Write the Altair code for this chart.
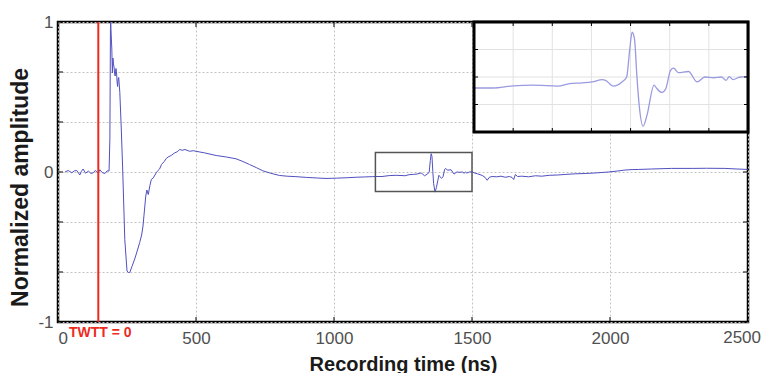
import altair as alt
import pandas as pd

# ---------------- data ----------------
t_early = [25, 37, 50, 60, 68, 79, 85, 91, 100, 110, 120, 128, 135, 145, 152, 160, 170, 178, 185, 188,
           190, 191, 193, 195, 197, 199, 201, 203, 205, 207, 210, 212, 214, 216, 218, 220, 222, 224, 229,
           234, 242, 250, 255, 260, 268, 278, 288, 296, 303, 308, 313, 318, 322, 327, 333, 338, 345, 356,
           362, 368, 375, 385, 392, 399, 410, 423, 432, 441, 450, 460, 477, 490, 500, 530, 573, 610, 645,
           670, 694, 720, 742, 770, 802, 830, 862, 900, 940, 971, 1010, 1050, 1079, 1110, 1140]
v_early = [0.0, 0.01, -0.005, 0.008, 0.01, -0.02, 0.005, 0.02, -0.008, 0.006, -0.01, -0.005, 0.01, -0.006,
           0.015, -0.004, -0.01, 0.008, 0.006, 0.22, 0.95, 1.0, 0.9, 0.82, 0.66, 0.76, 0.72, 0.7, 0.66, 0.64,
           0.69, 0.67, 0.6, 0.57, 0.62, 0.63, 0.58, 0.53, 0.3, 0.04, -0.45, -0.66, -0.67, -0.67, -0.63, -0.58,
           -0.52, -0.47, -0.42, -0.36, -0.26, -0.16, -0.12, -0.15, -0.09, -0.05, -0.04, -0.005, 0.01, 0.02,
           0.05, 0.07, 0.09, 0.1, 0.11, 0.128, 0.135, 0.15, 0.145, 0.15, 0.138, 0.142, 0.138, 0.128, 0.11,
           0.1, 0.088, 0.07, 0.05, 0.028, 0.008, -0.008, -0.023, -0.028, -0.031, -0.036, -0.04, -0.043,
           -0.041, -0.038, -0.035, -0.033, -0.031]

t_event = [1150, 1174, 1200, 1225, 1250, 1257, 1272, 1288, 1301, 1314, 1318, 1328, 1339, 1345, 1349,
           1352, 1355, 1358, 1361, 1366, 1371, 1380, 1383, 1390, 1395, 1401, 1405, 1411, 1424, 1435,
           1445, 1456, 1466, 1472, 1476, 1481, 1490, 1500]
v_event = [-0.030, -0.030, -0.024, -0.022, -0.024, -0.025, -0.018, -0.016, -0.0135, -0.007, -0.009,
           -0.025, -0.0135, 0.0, 0.077, 0.122, 0.104, 0.0045, -0.077, -0.134, -0.104, -0.022, -0.03,
           -0.042, -0.032, 0.018, 0.024, 0.012, 0.015, -0.0135, 0.0, -0.002, 0.0, -0.009, 0.001, -0.007,
           0.0, 0.001]

t_late = [1507, 1520, 1537, 1547, 1555, 1563, 1573, 1590, 1605, 1621, 1635, 1645, 1651, 1657, 1665, 1680,
          1705, 1730, 1753, 1780, 1810, 1840, 1874, 1910, 1950, 1994, 2025, 2054, 2080, 2103, 2150, 2223,
          2300, 2350, 2416, 2460, 2500]
v_late = [-0.005, -0.012, -0.023, -0.035, -0.055, -0.035, -0.03, -0.032, -0.028, -0.035, -0.03, -0.036,
          -0.05, -0.017, -0.03, -0.028, -0.032, -0.025, -0.028, -0.022, -0.02, -0.016, -0.012, -0.01,
          -0.006, 0.0, 0.006, 0.013, 0.016, 0.017, 0.02, 0.024, 0.024, 0.025, 0.024, 0.02, 0.017]

x_domain = [0, 2500]
y_domain = [-1, 1]
x_ticks = [0, 500, 1000, 1500, 2000, 2500]
y_ticks = [-1, -2 / 3, -1 / 3, 0, 1 / 3, 2 / 3, 1]
last_x_label = ["2500"]
twtt_t = [146]
twtt_label = ["TWTT = 0"]
box_t = [1150, 1500]
box_v = [-0.13, 0.13]

inset_t_domain = [1150, 1500]
inset_v_domain = [-0.15, 0.15]
inset_x_grid = [1200, 1250, 1300, 1350, 1400, 1450]
inset_y_grid = [-0.075, 0, 0.075]

W, H = 690, 300
inset_x_range = [416, 690]
inset_y_range = [110, 0]

# ---------------- encodings ----------------
FONT = "Liberation Sans"
LABEL_SIZE = 17
xs = alt.Scale(domain=x_domain, nice=False, zero=False)
ys = alt.Scale(domain=y_domain, nice=False, zero=False)
x_axis = alt.Axis(values=x_ticks, title="Recording time (ns)", grid=True, gridDash=[2, 2],
                  gridColor="#c4c4c4", domain=False, ticks=False, labelPadding=8,
                  labelFontSize=LABEL_SIZE, labelColor="#505050", labelFont=FONT,
                  labelExpr="datum.value == 2500 ? '' : datum.value",
                  titleFont=FONT, titleFontSize=20, titleFontWeight="bold", titleColor="#1a1a1a",
                  titleY=42, titleBaseline="middle")
y_axis = alt.Axis(values=y_ticks, title="Normalized amplitude", grid=True, gridDash=[2, 2],
                  gridColor="#c4c4c4", domain=False, ticks=False, labelPadding=5,
                  labelFontSize=LABEL_SIZE, labelColor="#505050", labelFont=FONT,
                  titleFont=FONT, titleFontSize=23, titleFontWeight="bold", titleColor="#1a1a1a",
                  titleX=-38, titleY=165, titleBaseline="middle",
                  labelExpr="datum.value == 1 ? '1' : (datum.value == -1 ? '-1' : (datum.value == 0 ? '0' : ''))")


def X(f, axis=False):
    return alt.X(f, type="quantitative", scale=xs, axis=x_axis if axis else None)


def Y(f, axis=False):
    return alt.Y(f, type="quantitative", scale=ys, axis=y_axis if axis else None)


main_df = pd.DataFrame({"t": t_early + t_event + t_late, "v": v_early + v_event + v_late})
trace = alt.Chart(main_df).mark_line(color="#5050c0", strokeWidth=1).encode(
    x=X("t", True), y=Y("v", True))

# last tick label drawn as text so that it stays inside the page
last_df = pd.DataFrame({"t": [x_domain[1]], "vb": [y_domain[0]], "label": last_x_label})
last_lbl = alt.Chart(last_df).mark_text(font=FONT, fontSize=LABEL_SIZE, color="#505050", align="right",
                                        baseline="top", dx=13, dy=8).encode(
    x=X("t"), y=Y("vb"), text="label:N")

red_df = pd.DataFrame({"t": twtt_t, "label": twtt_label, "vb": [y_domain[0]]})
red = alt.Chart(red_df).mark_rule(color="#ee2a1e", strokeWidth=2).encode(x=X("t"))
red_txt = alt.Chart(red_df).mark_text(color="#ee2a1e", fontWeight="bold", fontSize=14, font=FONT,
                                      baseline="middle", dy=11, dx=2).encode(
    x=X("t"), y=Y("vb"), text="label:N")

box_df = pd.DataFrame({"t": [box_t[0]], "t1": [box_t[1]], "v": [box_v[0]], "v1": [box_v[1]]})
box = alt.Chart(box_df).mark_rect(filled=False, stroke="#555555", strokeWidth=1.5).encode(
    x=X("t"), x2="t1", y=Y("v"), y2="v1")

ytick_df = pd.DataFrame({"v": y_ticks, "xl": x_domain[0], "xr": x_domain[1]})
xtick_df = pd.DataFrame({"t": x_ticks, "yb": y_domain[0], "yt": y_domain[1]})
yt_left = alt.Chart(ytick_df).mark_rule(color="black", x2Offset=5).encode(
    y=Y("v"), x=X("xl"), x2="xl")
yt_right = alt.Chart(ytick_df).mark_rule(color="black", x2Offset=-5).encode(
    y=Y("v"), x=X("xr"), x2="xr")
xt_top = alt.Chart(xtick_df).mark_rule(color="black", y2Offset=5).encode(
    x=X("t"), y=Y("yt"), y2="yt")
xt_bot = alt.Chart(xtick_df).mark_rule(color="black", y2Offset=-5).encode(
    x=X("t"), y=Y("yb"), y2="yb")

# ---------------- inset ----------------
ixs = alt.Scale(domain=inset_t_domain, range=inset_x_range, nice=False, zero=False)
iys = alt.Scale(domain=inset_v_domain, range=inset_y_range, nice=False, zero=False)


def IX(f):
    return alt.X(f, type="quantitative", scale=ixs, axis=None)


def IY(f):
    return alt.Y(f, type="quantitative", scale=iys, axis=None)


frame_df = pd.DataFrame({"t": [inset_t_domain[0]], "t1": [inset_t_domain[1]],
                         "v": [inset_v_domain[0]], "v1": [inset_v_domain[1]]})
ibg = alt.Chart(frame_df).mark_rect(fill="white").encode(x=IX("t"), x2="t1", y=IY("v"), y2="v1")
iframe = alt.Chart(frame_df).mark_rect(filled=False, stroke="black", strokeWidth=3).encode(
    x=IX("t"), x2="t1", y=IY("v"), y2="v1")

igx_df = pd.DataFrame({"t": inset_x_grid, "vb": inset_v_domain[0], "vt": inset_v_domain[1]})
igy_df = pd.DataFrame({"v": inset_y_grid, "tl": inset_t_domain[0], "tr": inset_t_domain[1]})
igx = alt.Chart(igx_df).mark_rule(color="#e2e2e2", strokeWidth=1).encode(
    x=IX("t"), y=IY("vb"), y2="vt")
igy = alt.Chart(igy_df).mark_rule(color="#e2e2e2", strokeWidth=1).encode(
    y=IY("v"), x=IX("tl"), x2="tr")

itx_top = alt.Chart(igx_df).mark_rule(color="black", y2Offset=4).encode(
    x=IX("t"), y=IY("vt"), y2="vt")
itx_bot = alt.Chart(igx_df).mark_rule(color="black", y2Offset=-4).encode(
    x=IX("t"), y=IY("vb"), y2="vb")
ity_l = alt.Chart(igy_df).mark_rule(color="black", x2Offset=4).encode(
    y=IY("v"), x=IX("tl"), x2="tl")
ity_r = alt.Chart(igy_df).mark_rule(color="black", x2Offset=-4).encode(
    y=IY("v"), x=IX("tr"), x2="tr")

ev_df = pd.DataFrame({"t": t_event, "v": v_event})
itrace = alt.Chart(ev_df).mark_line(color="#9a9ae0", strokeWidth=1.3, interpolate="monotone").encode(
    x=IX("t"), y=IY("v"))

chart = alt.layer(
    trace, box, red, red_txt, last_lbl, yt_left, yt_right, xt_top, xt_bot,
    ibg, igx, igy, itrace, itx_top, itx_bot, ity_l, ity_r, iframe,
).resolve_scale(x="independent", y="independent").properties(
    width=W, height=H,
    autosize=alt.AutoSizeParams(type="none"),
    padding={"left": 50, "top": 14, "right": 13, "bottom": 51},
    background="white",
).configure_view(stroke="black", strokeWidth=2.5)

chart.save("out.html", embed_options={"renderer": "svg", "actions": False})
